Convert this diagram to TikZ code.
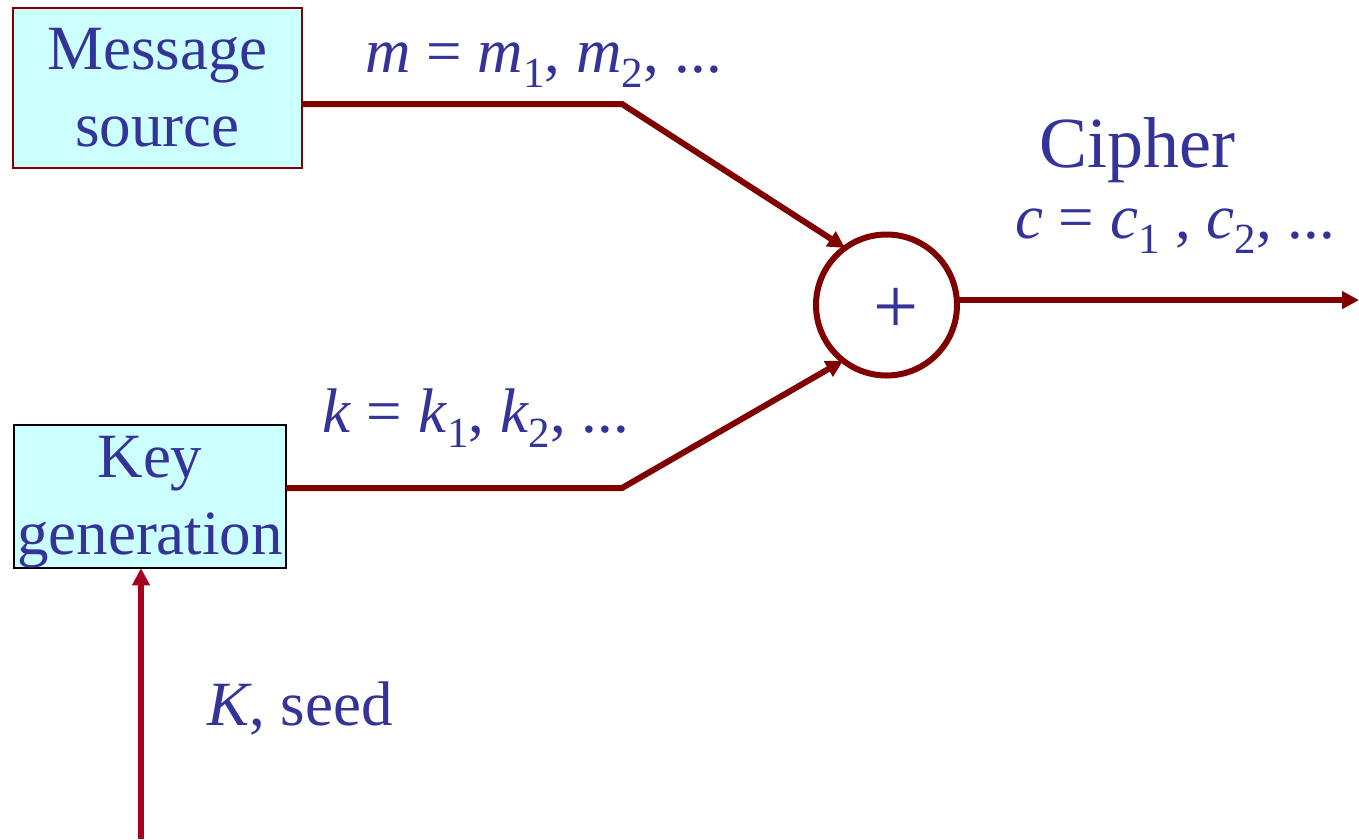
\documentclass[tikz,border=0pt]{standalone}
\usepackage{fontspec}
\setmainfont{Liberation Serif}
\usetikzlibrary{arrows.meta}
\definecolor{txtblue}{HTML}{333399}
\definecolor{linered}{HTML}{800000}
\definecolor{seedred}{HTML}{A50021}
\definecolor{boxfill}{HTML}{CCFFFF}
\newcommand\subtxt[1]{\raisebox{-15pt}{\fontsize{43}{43}\selectfont #1}}
\begin{document}
\begin{tikzpicture}[x=1pt,y=-1pt,
  lbl/.style={text=txtblue, font=\fontsize{63}{77}\selectfont, inner sep=0pt, anchor=base west},
  blockbox/.style={fill=boxfill, text=txtblue, font=\fontsize{63}{77}\selectfont, align=center, inner sep=0pt, outer sep=0pt},
  conn/.style={draw=linered, line width=6pt},
  tip/.style={-{Triangle[length=17pt,width=17pt]}}
]
\useasboundingbox (0,0) rectangle (1359,839);

\node[blockbox, draw=linered, line width=1.5pt, minimum width=289pt, minimum height=160pt] (msg) at (157.5,88) {Message\\source};
\node[blockbox, draw=black, line width=2pt, minimum width=272pt, minimum height=143pt] (key) at (150,496.5) {\rule{0pt}{53pt}Key\\generation};

\node[circle, draw=linered, line width=6pt, minimum size=141pt, inner sep=0pt, outer sep=0pt] (xor) at (886.5,305) {};
\node[text=txtblue, font=\fontsize{80}{84}\selectfont, inner sep=0pt] (plus) at (896,311) {+};

\coordinate (mbend) at (622,104);
\coordinate (kbend) at (622,488);
\coordinate (outend) at (1359,300);
\coordinate (seedstart) at (141,839);

\draw[conn, tip] ([yshift=-16pt]msg.east) -- (mbend) -- (xor.126);
\draw[conn, tip] ([yshift=8.5pt]key.east) -- (kbend) -- (xor.232);
\draw[conn, tip] (xor.4) -- (xor.4 -| outend);
\draw[draw=seedred, line width=6pt, tip] (seedstart) -- (key.south -| seedstart);

\node[lbl] (mlab) at (365,72) {\textit{m} = \textit{m}\subtxt{1}, \textit{m}\subtxt{2}, ...};
\node[lbl, font=\fontsize{72}{86}\selectfont] (ciph) at (1039,167) {Cipher};
\node[lbl] (clab) at (1015,238) {\textit{c} = \textit{c}\subtxt{1} , \textit{c}\subtxt{2}, ...};
\node[lbl] (klab) at (322,432) {\textit{k} = \textit{k}\subtxt{1}, \textit{k}\subtxt{2}, ...};
\node[lbl] (slab) at (207,725) {\textit{K}, seed};
\end{tikzpicture}
\end{document}
